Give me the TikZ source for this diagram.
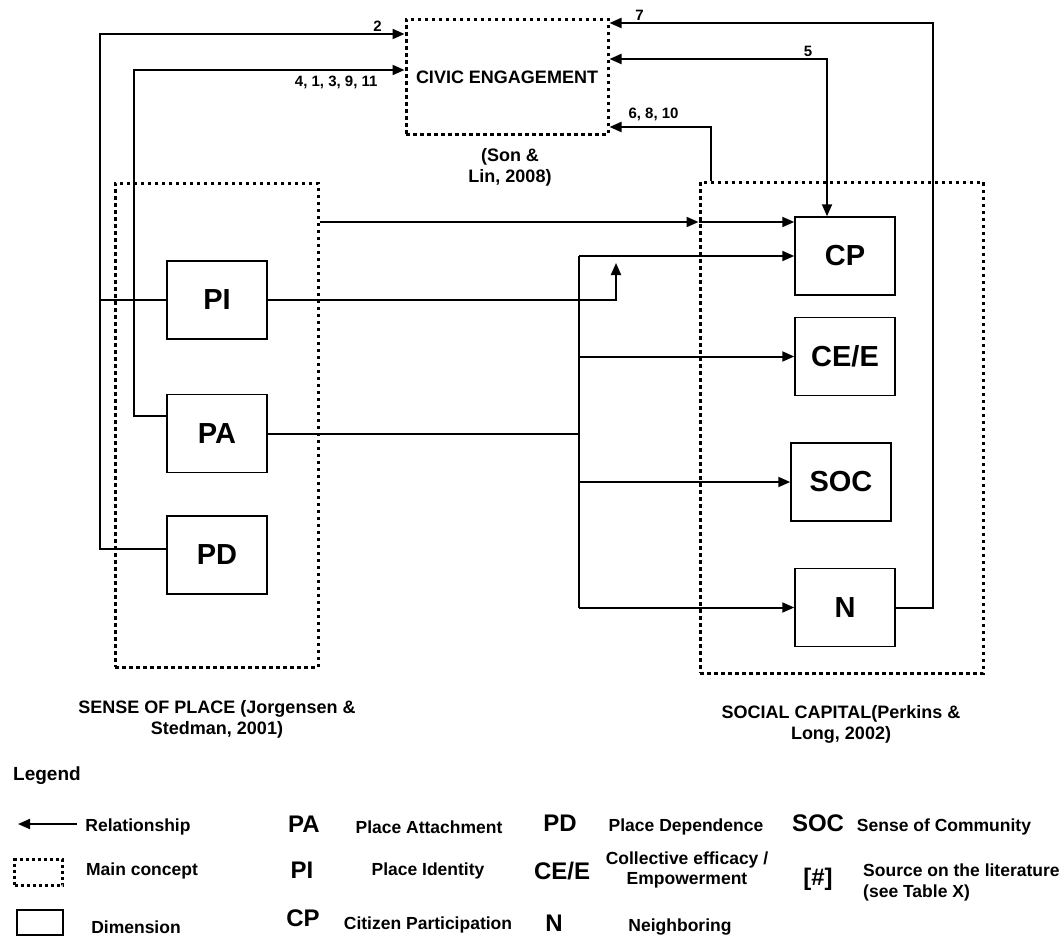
\documentclass[tikz,border=0pt]{standalone}
\usepackage{fontspec}
\setmainfont{Liberation Sans}
\usetikzlibrary{arrows.meta, positioning}

\begin{document}
\begin{tikzpicture}[
    x=1pt, y=-1pt,
    >={Triangle[length=12pt, width=10pt]},
    every node/.style={font=\bfseries\fontsize{18}{21}\selectfont, inner sep=1pt},
    concept/.style={rectangle, draw, line width=3pt, dash pattern=on 3.5pt off 3.5pt},
    dimension/.style={rectangle, draw, line width=1.5pt, minimum width=100pt, minimum height=78pt, font=\bfseries\fontsize{29}{32}\selectfont},
    caption/.style={align=center},
    num/.style={font=\bfseries\fontsize{15}{17}\selectfont},
    abbrev/.style={font=\bfseries\fontsize{24}{26}\selectfont},
    legtext/.style={font=\bfseries\fontsize{17.5}{21}\selectfont},
    arrow/.style={->, line width=2pt},
    link/.style={line width=2pt}
]
\useasboundingbox (0,0) rectangle (1064,936);

% Main concepts
\node[concept, minimum width=202pt, minimum height=115pt] (civic) at (507,77) {CIVIC ENGAGEMENT};
\node[caption] (civicref) at (510,167) {(Son \&\\Lin, 2008)};
\node[concept, minimum width=203pt, minimum height=484pt] (place) at (216.5,425) {};
\node[concept, minimum width=283pt, minimum height=491pt] (social) at (841.5,427.5) {};
\node[caption] (placeref) at (217,719) {SENSE OF PLACE (Jorgensen \&\\Stedman, 2001)};
\node[caption] (socialref) at (841,724) {SOCIAL CAPITAL(Perkins \&\\Long, 2002)};

% Dimensions
\node[dimension] (PI) at (217,300) {PI};
\node[dimension, below=54pt of PI] (PA) {PA};
\node[dimension, below=42pt of PA] (PD) {PD};

\node[dimension] (CP) at (845,256) {CP};
\node[dimension, below=21pt of CP] (CEE) {CE/E};
\node[dimension, below=46pt of CEE, xshift=-4pt] (SOC) {SOC};
\node[dimension, below=46pt of SOC, xshift=4pt] (N) {N};

% Bends
\coordinate (left2) at (100,34);
\coordinate (left4) at (134,70);
\coordinate (rowtop) at (0,222);
\coordinate (piup) at (616,263);
\coordinate (bus) at (579,0);
\coordinate (right7) at (933,23);
\coordinate (right5) at (827,59);
\coordinate (right6) at (711,127);

% Sense of place to civic engagement
\draw[arrow] ([yshift=6pt]PD.west) -| (left2) -- (civic.west |- left2) node[num, anchor=south, xshift=-27pt] {2};
\draw[link] (PI.west) -- (PI.west -| left2);
\draw[arrow] ([yshift=18pt]PA.west) -| (left4) -- (civic.west |- left4) node[num, anchor=north east, xshift=-25pt, yshift=-4pt] {4, 1, 3, 9, 11};

% Sense of place to social capital
\draw[arrow] (place.east |- rowtop) -- (social.west |- rowtop);
\draw[arrow] (social.west |- rowtop) -- (CP.west |- rowtop);
\draw[arrow] (PI.east) -| (piup);
\draw[link] (PA.east) -- (PA.east -| bus);
\draw[link] (bus |- CP.west) -- (bus |- N.west);
\foreach \dim in {CP, CEE, SOC, N}
  \draw[arrow] (bus |- \dim.west) -- (\dim.west);

% Social capital to civic engagement
\draw[arrow] (N.east) -| (right7) -- (civic.east |- right7) node[num, anchor=south, xshift=30pt] {7};
\draw[<->, line width=2pt] (civic.east |- right5) -- (right5) node[num, anchor=south, xshift=-19pt] {5} -- (right5 |- CP.north);
\draw[arrow] (social.north -| right6) -- (right6) -- (civic.east |- right6) node[num, anchor=south west, xshift=17pt, yshift=4pt] {6, 8, 10};

% Legend
\node[font=\bfseries\fontsize{19}{21}\selectfont, anchor=west] (legend) at (12,776) {Legend};
\coordinate (relstart) at (77,824);
\coordinate (relend) at (18,824);
\draw[arrow] (relstart) -- (relend);
\node[legtext] (reltext) at (138,827) {Relationship};
\node[concept, line width=2.5pt, dash pattern=on 3pt off 3pt, minimum width=48pt, minimum height=26pt] (legconcept) at (38.5,872.5) {};
\node[legtext] (concepttext) at (142,871) {Main concept};
\node[dimension, minimum width=46pt, minimum height=25pt] (legdim) at (40,922.5) {};
\node[legtext] (dimtext) at (136,927) {Dimension};

\node[abbrev] (legPA) at (304,824) {PA};
\node[abbrev] (legPI) at (302,870) {PI};
\node[abbrev] (legCP) at (303,918) {CP};
\node[legtext] (txtPA) at (429,827) {Place Attachment};
\node[legtext] (txtPI) at (428,871) {Place Identity};
\node[legtext] (txtCP) at (428,925) {Citizen Participation};

\node[abbrev] (legPD) at (560,823) {PD};
\node[abbrev] (legCEE) at (562,871) {CE/E};
\node[abbrev] (legN) at (554,923) {N};
\node[legtext] (txtPD) at (686,827) {Place Dependence};
\node[legtext, align=center, font=\bfseries\fontsize{17.5}{20}\selectfont] (txtCEE) at (687,870) {Collective efficacy /\\Empowerment};
\node[legtext] (txtN) at (680,927) {Neighboring};

\node[abbrev] (legSOC) at (818,823) {SOC};
\node[abbrev] (legsrc) at (818,879) {[\#]};
\node[legtext] (txtSOC) at (944,827) {Sense of Community};
\node[legtext, align=left, anchor=west] (txtsrc) at (862,882) {Source on the literature\\(see Table X)};

\end{tikzpicture}
\end{document}
